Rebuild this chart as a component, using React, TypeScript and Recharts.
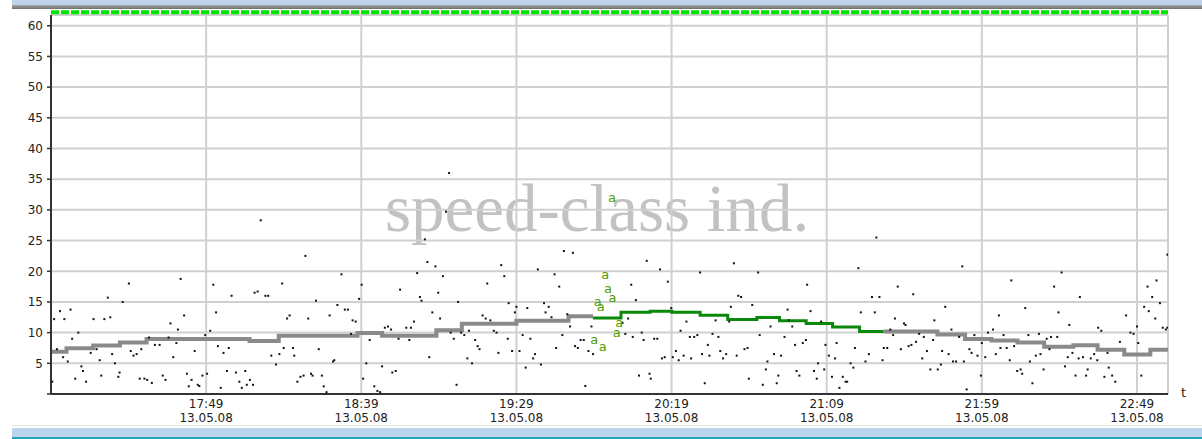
import React from 'react';
import {
  ComposedChart,
  Line,
  Scatter,
  XAxis,
  YAxis,
  CartesianGrid,
  ReferenceLine
} from 'recharts';

// x = minutes since 16:59 (13.05.08), y = speed
const tickMinutes = [50, 100, 150, 200, 250, 300, 350];
const tickTimes = ['17:49', '18:39', '19:29', '20:19', '21:09', '21:59', '22:49'];
const tickDate = '13.05.08';
const yTicks = [0, 5, 10, 15, 20, 25, 30, 35, 40, 45, 50, 55, 60];

// step level of the class indicator
const grayStepsA: [number, number][] = [
  [0, 6.9], [5.0, 7.45], [13.6, 7.9], [22.2, 8.4], [30.8, 8.95], [64.0, 8.65],
  [73.4, 9.5], [98.8, 9.95], [106.7, 9.5], [124.2, 10.4], [132.4, 11.45],
  [150.0, 11.95], [166.8, 12.65], [174.7, 12.65]
];
const greenSteps: [number, number][] = [
  [174.7, 12.4], [183.7, 13.3], [193.1, 13.5], [200.1, 13.3], [209.2, 12.85],
  [218.1, 12.15], [227.5, 12.45], [234.8, 11.95], [243.4, 11.5], [251.9, 10.9],
  [260.6, 10.2], [268.3, 10.2]
];
const grayStepsB: [number, number][] = [
  [268.3, 10.2], [285.7, 9.7], [294.6, 8.95], [303.1, 8.7], [311.5, 8.4],
  [320.1, 7.7], [329.5, 7.95], [337.3, 7.2], [345.9, 6.45], [354.3, 7.2], [360, 7.2]
];

// flagged measurements ("a")
const flagged: [number, number][] = [
  [180.8, 32.0], [178.6, 19.4], [179.5, 17.1], [181.0, 15.6], [176.2, 15.0],
  [177.2, 14.1], [183.1, 11.5], [182.3, 10.0], [175.1, 8.8], [177.8, 7.6]
];

const samplesEarly: [number, number][] = [
  [25.1, 18.0], [41.8, 18.75], [52.3, 17.8], [58.2, 16.0], [18.3, 15.7], [23.1, 15.0],
  [2.9, 13.5], [6.3, 13.75], [1.0, 12.2], [4.3, 12.2], [13.7, 12.2], [17.2, 12.2],
  [19.1, 12.5], [42.9, 12.8], [53.2, 13.3], [38.5, 11.5], [40.9, 10.5], [51.3, 10.3],
  [8.8, 10.0], [6.8, 9.0], [37.9, 9.2], [31.6, 9.2], [33.5, 8.0], [35.0, 8.0],
  [40.4, 8.3], [49.7, 9.6], [53.8, 7.8], [57.3, 7.5], [55.6, 6.7], [1.9, 7.3],
  [14.7, 7.3], [12.8, 6.7], [19.7, 6.5], [25.7, 7.0], [26.6, 6.25], [27.6, 6.5],
  [29.1, 7.3], [46.3, 7.0], [3.9, 6.0], [15.7, 5.5], [5.4, 5.3], [20.6, 5.0],
  [39.4, 6.0], [9.8, 4.5], [10.3, 3.75], [56.7, 3.75], [59.6, 3.5], [16.2, 3.0],
  [21.7, 2.8], [22.1, 3.5], [7.8, 2.5], [11.3, 2.0], [28.6, 2.5], [30.1, 2.5],
  [31.0, 2.3], [32.5, 1.8], [36.0, 3.0], [36.9, 2.3], [43.8, 3.3], [45.3, 2.3],
  [48.8, 3.0], [50.3, 3.3], [44.4, 1.25], [47.3, 1.5], [47.8, 1.3], [54.7, 1.0],
  [60.7, 2.0], [0.4, 2.0],
  [67.6, 28.3], [82.0, 22.5], [93.6, 19.5], [74.5, 18.0], [65.6, 16.5], [66.6, 16.7],
  [69.1, 16.0], [70.0, 16.0], [100.1, 17.8], [99.3, 15.5], [85.4, 15.2], [92.3, 14.5],
  [94.7, 13.75], [95.7, 13.75], [112.5, 17.0], [118.0, 19.7], [118.9, 15.8], [119.4, 15.2],
  [120.5, 25.2], [121.3, 21.5], [76.9, 12.8], [76.1, 12.3], [82.9, 12.3], [89.8, 12.8],
  [97.2, 12.0], [98.2, 11.8], [117.0, 11.8], [107.6, 10.8], [108.6, 11.0], [109.6, 10.5],
  [114.5, 10.8], [116.0, 10.8], [96.7, 9.8], [102.7, 8.8], [112.0, 9.0], [115.5, 8.8],
  [75.0, 7.5], [78.0, 7.5], [86.3, 7.3], [71.0, 6.25], [73.6, 6.5], [78.4, 6.25],
  [72.5, 4.8], [91.3, 5.5], [90.9, 5.3], [101.6, 5.0], [106.7, 4.5], [111.1, 3.75],
  [110.0, 3.5], [62.6, 3.75], [64.1, 2.3], [63.1, 1.5], [65.1, 1.5], [61.5, 1.0],
  [79.4, 2.0], [80.4, 2.8], [81.4, 3.0], [83.8, 3.3], [84.3, 3.0], [87.3, 3.0],
  [87.9, 1.25], [88.8, 0.3], [100.6, 2.5], [104.2, 1.25], [105.2, 0.5], [106.1, 0.3],
  [128.3, 36.0], [127.3, 29.7], [123.9, 20.8], [126.3, 19.2], [124.8, 16.5], [145.1, 21.0],
  [146.1, 19.2], [140.6, 18.0], [131.2, 15.0], [165.3, 23.3], [168.2, 23.0], [156.9, 20.3],
  [162.3, 19.5], [163.8, 17.5], [122.9, 13.3], [125.4, 12.3], [147.5, 14.8], [150.0, 14.2],
  [149.5, 13.3], [153.5, 14.0], [158.9, 14.8], [160.4, 14.2], [159.4, 13.3], [139.1, 12.8],
  [140.1, 12.3], [141.6, 12.0], [161.3, 12.5], [166.4, 13.0], [167.3, 11.0], [174.2, 11.0],
  [128.8, 10.0], [132.2, 10.0], [134.7, 10.3], [133.2, 9.6], [129.8, 9.0], [142.7, 10.3],
  [143.6, 10.0], [136.7, 8.8], [147.2, 9.0], [152.0, 9.6], [154.5, 9.0], [164.8, 9.6],
  [170.7, 8.8], [171.7, 8.8], [137.5, 7.8], [138.1, 7.3], [148.6, 7.0], [151.0, 7.0],
  [162.8, 7.5], [168.9, 7.8], [169.8, 7.5], [173.2, 7.0], [174.7, 6.5], [144.2, 6.7],
  [156.0, 6.5], [155.4, 5.8], [121.9, 6.0], [134.2, 5.8], [135.7, 5.0], [153.0, 4.3],
  [157.9, 4.8], [130.7, 1.5], [172.2, 1.3]
];

const samplesLate: [number, number][] = [
  [192.0, 21.7], [196.3, 20.3], [187.0, 17.8], [198.8, 18.3], [188.5, 15.3], [209.2, 19.8],
  [220.1, 21.3], [227.9, 19.8], [221.5, 16.0], [222.4, 15.8], [219.1, 14.2], [226.0, 14.5],
  [237.4, 13.75], [199.9, 14.0], [186.0, 12.3], [204.8, 11.8], [214.2, 12.0], [218.6, 11.8],
  [237.8, 12.0], [238.9, 11.0], [231.9, 11.0], [202.9, 10.3], [190.4, 10.0], [185.1, 9.8],
  [187.5, 9.3], [191.0, 8.8], [194.4, 9.0], [195.4, 9.0], [205.9, 9.3], [207.3, 9.3],
  [208.3, 9.6], [213.2, 9.8], [215.1, 9.3], [228.4, 9.6], [236.4, 9.3], [211.7, 8.0],
  [201.4, 7.0], [203.9, 6.25], [202.3, 5.5], [200.4, 6.0], [196.9, 5.8], [197.8, 6.0],
  [206.3, 5.8], [209.8, 6.5], [212.2, 6.25], [215.7, 7.0], [216.6, 5.8], [217.6, 6.5],
  [221.0, 6.25], [223.5, 7.3], [224.5, 7.5], [233.0, 6.5], [235.3, 6.25], [239.8, 8.0],
  [242.3, 8.3], [230.9, 5.3], [230.4, 4.0], [234.4, 3.0], [233.9, 1.75], [229.4, 1.5],
  [240.3, 3.75], [241.2, 3.0], [224.9, 2.5], [189.5, 3.0], [192.9, 3.3], [193.3, 2.5],
  [210.7, 1.75], [184.2, 11.6],
  [266.0, 25.5], [260.2, 20.5], [293.7, 20.8], [243.7, 17.8], [272.9, 17.5], [277.9, 16.25],
  [264.6, 15.8], [267.0, 15.8], [288.2, 14.2], [244.8, 13.5], [261.0, 13.3], [265.5, 13.3],
  [272.0, 12.3], [274.9, 11.5], [275.4, 11.25], [284.7, 12.0], [248.2, 11.8], [290.2, 10.5],
  [270.5, 10.5], [271.4, 9.6], [279.8, 9.8], [281.3, 9.3], [292.7, 9.3], [297.6, 9.6],
  [302.0, 10.0], [243.3, 8.8], [249.6, 8.0], [253.2, 8.3], [278.8, 8.5], [277.3, 8.0],
  [276.4, 7.8], [284.3, 8.8], [300.0, 8.3], [259.1, 7.5], [268.4, 7.5], [269.5, 7.5],
  [273.9, 7.3], [282.3, 7.0], [296.0, 7.3], [296.7, 6.7], [250.7, 6.25], [252.7, 5.8],
  [263.6, 6.5], [287.2, 7.0], [289.3, 6.5], [298.6, 6.25], [301.1, 6.0], [280.8, 5.8],
  [268.0, 5.5], [262.5, 5.3], [290.7, 5.3], [291.7, 5.3], [294.2, 5.3], [247.2, 5.0],
  [257.7, 5.0], [286.8, 4.8], [249.2, 4.0], [245.9, 3.75], [258.6, 4.3], [283.4, 4.0],
  [285.8, 4.0], [246.8, 2.5], [251.7, 2.8], [255.2, 2.8], [256.1, 2.0], [256.6, 2.0],
  [254.1, 1.0], [299.7, 3.0], [295.1, 0.75],
  [359.8, 22.7], [325.7, 19.8], [309.5, 18.5], [323.3, 17.5], [356.3, 18.5], [353.4, 17.5],
  [331.6, 15.8], [354.9, 15.8], [314.0, 14.0], [324.7, 13.3], [352.3, 14.2], [353.8, 13.5],
  [357.4, 14.8], [305.5, 12.8], [346.5, 12.8], [355.9, 12.3], [328.2, 11.25], [303.6, 10.5],
  [337.5, 10.8], [338.5, 10.3], [358.3, 10.8], [359.3, 10.5], [359.8, 10.8], [350.0, 11.0],
  [347.9, 10.0], [348.9, 9.8], [307.0, 9.6], [315.0, 9.6], [318.4, 9.8], [320.9, 9.0],
  [322.3, 9.3], [324.3, 9.3], [344.5, 8.5], [350.4, 8.3], [306.0, 7.5], [308.0, 7.5],
  [310.4, 7.8], [321.8, 7.3], [304.5, 6.5], [317.4, 6.25], [318.9, 6.5], [329.2, 6.7],
  [327.7, 6.0], [331.2, 5.8], [332.6, 6.0], [335.1, 5.8], [336.2, 6.5], [337.2, 5.5],
  [340.5, 6.7], [309.0, 5.5], [315.5, 5.3], [326.8, 4.5], [334.1, 4.0], [340.9, 4.3],
  [311.4, 3.75], [312.5, 4.0], [313.0, 3.3], [319.9, 4.0], [330.2, 3.0], [333.6, 3.0],
  [339.5, 2.8], [342.0, 3.0], [343.0, 2.0], [316.3, 1.75], [351.4, 3.0]
];

const toRows = (pts: [number, number][]) => pts.map(([m, v]) => ({ m, v }));

const FONT = '"DejaVu Sans", Verdana, sans-serif';

const TimeTick = (props: any) => {
  const { x, y, payload } = props;
  const i = tickMinutes.indexOf(payload.value);
  return (
    <g>
      <text x={x} y={y + 6} textAnchor="middle" fontSize={12} fontFamily={FONT} fill="#222">
        {tickTimes[i]}
      </text>
      <text x={x} y={y + 20} textAnchor="middle" fontSize={12} fontFamily={FONT} fill="#222">
        {tickDate}
      </text>
    </g>
  );
};

const Dot = (props: any) => (
  <rect x={props.cx - 1} y={props.cy - 1} width={2} height={2} fill="#111" />
);

const Letter = (props: any) => (
  <text x={props.cx} y={props.cy + 4} textAnchor="middle" fontSize={13} fontFamily={FONT} fill="#4f9e00">
    a
  </text>
);

export default function App() {
  return (
    <div style={{ position: 'absolute', left: 0, top: 0, width: 1202, height: 439, background: '#fff', overflow: 'hidden' }}>
      {/* window frame */}
      <div style={{ position: 'absolute', left: 12, top: 0, width: 1190, height: 5, background: '#bfd3ea' }} />
      <div style={{ position: 'absolute', left: 12, top: 5, width: 1190, height: 4, background: 'linear-gradient(#a8a8a8, #6e6e6e)' }} />
      <div style={{ position: 'absolute', left: 12, top: 425, width: 1190, height: 1, background: '#e4e4e4' }} />
      <div style={{ position: 'absolute', left: 12, top: 428, width: 1190, height: 9, background: '#bcd4ee' }} />
      <div style={{ position: 'absolute', left: 12, top: 437, width: 1190, height: 2, background: '#2aa2b6' }} />
      {/* watermark */}
      <div
        style={{
          position: 'absolute', left: 385, top: 175, width: 430, height: 67, lineHeight: '67px',
          fontFamily: '"Liberation Serif", serif', fontSize: 67, color: '#c2c2c2', whiteSpace: 'nowrap'
        }}
      >
        speed-class ind.
      </div>
      <div style={{ position: 'absolute', left: 0, top: 0 }}>
        <ComposedChart width={1202} height={439} margin={{ top: 15, right: 34, bottom: 0, left: 0 }}>
          <CartesianGrid stroke="#d0d0d0" strokeWidth={2} />
          <XAxis
            type="number"
            dataKey="m"
            domain={[0, 360]}
            ticks={tickMinutes}
            interval={0}
            allowDataOverflow
            height={45}
            tick={<TimeTick />}
            tickLine={false}
            axisLine={{ stroke: '#333', strokeWidth: 2 }}
            label={{
              content: (p: any) => {
                const vb = p.viewBox || { x: 51, y: 394, width: 1117 };
                return (
                  <text x={vb.x + vb.width + 13} y={vb.y + 3} fontSize={13} fontFamily={FONT} fill="#222">
                    t
                  </text>
                );
              }
            }}
          />
          <YAxis
            type="number"
            dataKey="v"
            domain={[0, 61.75]}
            ticks={yTicks}
            interval={0}
            allowDataOverflow
            width={51}
            tickSize={4}
            tickMargin={4}
            tickFormatter={(v: number) => (v === 0 ? '' : String(v))}
            tick={{ fontSize: 12, fontFamily: FONT, fill: '#222' }}
            tickLine={{ stroke: '#333', strokeWidth: 1.5 }}
            axisLine={{ stroke: '#333', strokeWidth: 2 }}
          />
          <ReferenceLine y={62.2} stroke="#00e400" strokeWidth={4} strokeDasharray="8 2" ifOverflow="visible" />
          <Scatter data={toRows(samplesEarly)} dataKey="v" shape={<Dot />} isAnimationActive={false} />
          <Scatter data={toRows(samplesLate)} dataKey="v" shape={<Dot />} isAnimationActive={false} />
          <Line data={toRows(grayStepsA)} dataKey="v" type="stepAfter" stroke="#8a8a8a" strokeWidth={4} dot={false} isAnimationActive={false} />
          <Line data={toRows(grayStepsB)} dataKey="v" type="stepAfter" stroke="#8a8a8a" strokeWidth={4} dot={false} isAnimationActive={false} />
          <Line data={toRows(greenSteps)} dataKey="v" type="stepAfter" stroke="#0a880a" strokeWidth={3} dot={false} isAnimationActive={false} />
          <Scatter data={toRows(flagged)} dataKey="v" shape={<Letter />} isAnimationActive={false} />
        </ComposedChart>
      </div>
    </div>
  );
}
